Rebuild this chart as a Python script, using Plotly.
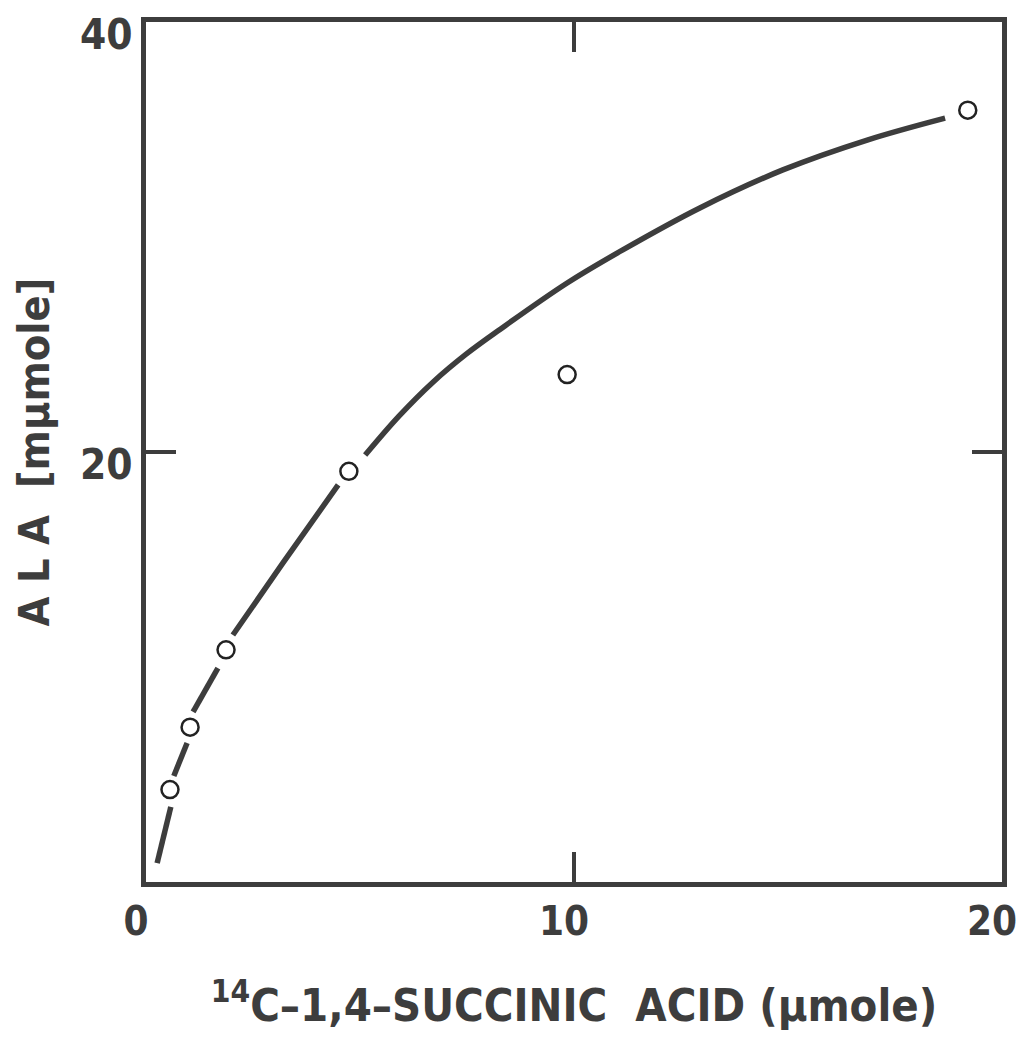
import plotly.graph_objects as go

# measured data points (open circles)
succinate = [0.56, 1.03, 1.87, 4.74, 9.84, 19.2]
ala = [4.3, 7.2, 10.8, 19.1, 23.6, 35.9]

# hand-drawn fitted curve (None = gaps at the markers)
curve_x = [0.26, 0.58, None, 0.65, 0.96, None, 1.10, 1.68, None,
           2.03, 3.20, 4.49, None,
           5.12, 5.91, 6.71, 7.48, 8.27, 9.84, 11.14, 12.94, 14.88, 16.85, 18.67]
curve_y = [0.88, 3.49, None, 4.93, 6.47, None, 7.91, 9.95, None,
           11.49, 14.84, 18.47, None,
           19.86, 21.67, 23.26, 24.55, 25.70, 27.86, 29.40, 31.35, 33.12, 34.51, 35.53]

x_ticks = [0, 10, 20]
x_tick_text = ["0", "10", "20"]
y_ticks = [20, 40]
y_tick_text = ["20", "40"]

ink = "#3d3d3d"
font_family = "DejaVu Sans Condensed"

fig = go.Figure()
fig.add_trace(go.Scatter(x=curve_x, y=curve_y, mode="lines",
                         line=dict(color=ink, width=5.5, shape="spline", smoothing=1.0),
                         connectgaps=False, hoverinfo="skip"))
fig.add_trace(go.Scatter(x=succinate, y=ala, mode="markers",
                         marker=dict(symbol="circle-open", size=17,
                                     color="#222222", line=dict(width=2.5))))

fig.update_layout(
    width=1019, height=1040,
    margin=dict(l=146, r=17, t=22, b=158),
    paper_bgcolor="white", plot_bgcolor="white",
    showlegend=False,
    font=dict(family=font_family, color=ink),
)
fig.update_xaxes(
    range=[0, 20], tickvals=x_ticks, ticktext=x_tick_text,
    automargin=False,
    showgrid=False, zeroline=False,
    showline=True, linecolor=ink, linewidth=5, mirror="ticks",
    ticks="inside", ticklen=30, tickwidth=4, tickcolor=ink,
    ticklabeloverflow="allow", ticklabelshift=-10,
    tickfont=dict(family=font_family, size=40, color=ink, weight="bold"),
    title=dict(text="<sup>14</sup>C–1,4–SUCCINIC  ACID (µmole)",
               font=dict(family=font_family, size=45, color=ink, weight="bold"),
               standoff=48),
)
fig.update_yaxes(
    range=[0, 40], tickvals=y_ticks, ticktext=y_tick_text,
    automargin=False,
    showgrid=False, zeroline=False,
    showline=True, linecolor=ink, linewidth=5, mirror="ticks",
    ticks="inside", ticklen=30, tickwidth=4, tickcolor=ink,
    ticklabeloverflow="allow", ticklabelshift=12,
    tickfont=dict(family=font_family, size=42, color=ink, weight="bold"),
    title=dict(text="A L A  [mµmole]",
               font=dict(family=font_family, size=43, color=ink, weight="bold"),
               standoff=18),
)

fig.write_html("out.html")
